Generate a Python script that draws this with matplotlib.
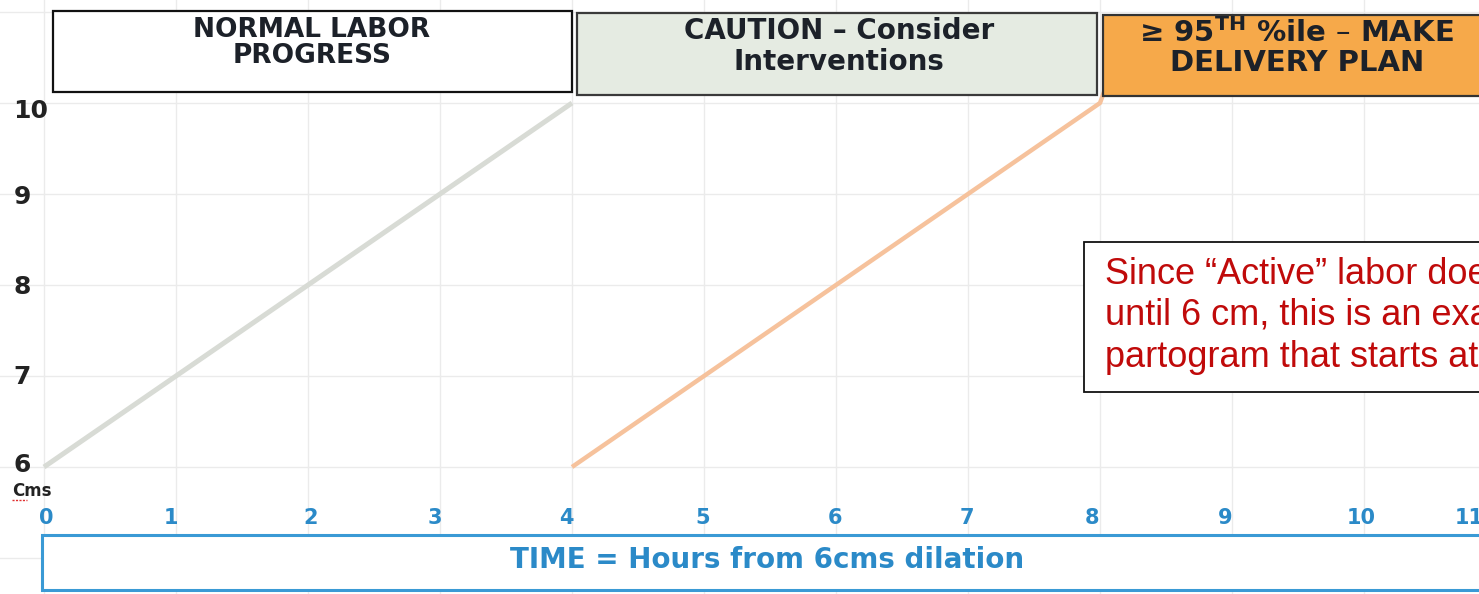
import matplotlib
matplotlib.use("Agg")
import matplotlib.pyplot as plt
from matplotlib.patches import Rectangle

# partogram lines (hours from 6 cm, dilation in cm)
normal_hours = [0, 4]
normal_cm = [6, 10]
action_hours = [4, 8, 8.03]
action_cm = [6, 10, 10.12]

hour_ticks = list(range(12))
hour_label_pos = [0.02, 0.96, 2.02, 2.96, 3.96, 4.99, 5.99, 6.99, 7.94, 8.95, 9.98, 10.8]
cm_ticks = [6, 7, 8, 9, 10]
cm_label_pos = [6.02, 6.99, 7.98, 8.97, 9.91]

zone_labels = ["NORMAL LABOR\nPROGRESS",
               "CAUTION \u2013 Consider\nInterventions",
               "\u2265 95$^{\\mathbf{TH}}$ %ile \u2013 MAKE\nDELIVERY PLAN"]
zone_colors = ["#ffffff", "#e5ebe2", "#f6a94a"]

note_text = ("Since \u201cActive\u201d labor does not begin\n"
             "until 6 cm, this is an example of a\n"
             "partogram that starts at 6 cm.")
xlabel_text = "TIME = Hours from 6cms dilation"

# pixel -> data: x = (px-44)/132, y = 10-(py-103)/91
fig = plt.figure(figsize=(14.79, 5.94), dpi=100)
ax = fig.add_axes([0, 0, 1, 1])
ax.set_xticks(range(11))
ax.set_yticks(range(5, 12))
ax.set_xlim(-44 / 132, (1479 - 44) / 132)
ax.set_ylim(10 - (594 - 103) / 91, 10 + 103 / 91)
ax.grid(color="#ebebeb", linewidth=1)
ax.tick_params(length=0, labelbottom=False, labelleft=False)
for s in ax.spines.values():
    s.set_visible(False)

ax.plot(normal_hours, normal_cm, color="#d8dbd5", lw=3.6, solid_capstyle="butt", zorder=3)
ax.plot(action_hours, action_cm, color="#f6c29c", lw=3.2, solid_capstyle="butt", zorder=3)

# zone header boxes
zone_x = [(0.068, 4.0), (4.04, 7.98), (8.02, 11.5)]
zone_y = [(10.12, 11.01), (10.09, 10.99), (10.08, 10.97)]
zone_fs = [19, 20, 21]
zone_ls = [1.0, 1.12, 1.08]
zone_cx = [2.03, 6.02, 9.49]
zone_cy = [10.66, 10.62, 10.61]
zone_edge = ["#111111", "#3a3a3a", "#333333"]
for i, lab in enumerate(zone_labels):
    (x0, x1), (y0, y1) = zone_x[i], zone_y[i]
    ax.add_patch(Rectangle((x0, y0), x1 - x0, y1 - y0, facecolor=zone_colors[i],
                           edgecolor=zone_edge[i], lw=1.6, zorder=4))
    ax.text(zone_cx[i], zone_cy[i], lab, ha="center", va="center", fontsize=zone_fs[i],
            fontweight="bold", family="DejaVu Sans", color="#1c2129",
            linespacing=zone_ls[i], zorder=5)

# y tick labels
for v, yp in zip(cm_ticks, cm_label_pos):
    ax.text(-0.232, yp, str(v), ha="left", va="center", fontsize=18,
            fontweight="bold", family="DejaVu Sans", color="#222222")
ax.text(-0.245, 5.74, "Cms", ha="left", va="center", fontsize=12,
        fontweight="bold", family="DejaVu Sans", color="#222222")
ax.plot([-0.242, -0.13], [5.64, 5.64], color="#e03030", lw=1, ls=(0, (1.5, 1)))

# x tick labels
for h, xp in zip(hour_ticks, hour_label_pos):
    ax.text(xp, 5.44, str(h), ha="center", va="center", fontsize=15,
            fontweight="bold", family="DejaVu Sans", color="#2b8ac8")

# time axis box
ax.add_patch(Rectangle((-0.015, 4.648), 12, 0.605, facecolor="white",
                       edgecolor="#3a9ad5", lw=2.2, zorder=4))
ax.text(5.48, 4.975, xlabel_text, ha="center", va="center", fontsize=20,
        fontweight="bold", family="DejaVu Sans", color="#2b8ac8", zorder=5)

# note box
ax.add_patch(Rectangle((7.88, 6.824), 4.5, 1.649, facecolor="white",
                       edgecolor="#111111", lw=1.3, zorder=4))
ax.text(8.04, 7.66, note_text, ha="left", va="center", fontsize=26,
        family="Liberation Sans", color="#c00a0a", linespacing=1.25, zorder=5)

fig.savefig("out.png", dpi=100)
